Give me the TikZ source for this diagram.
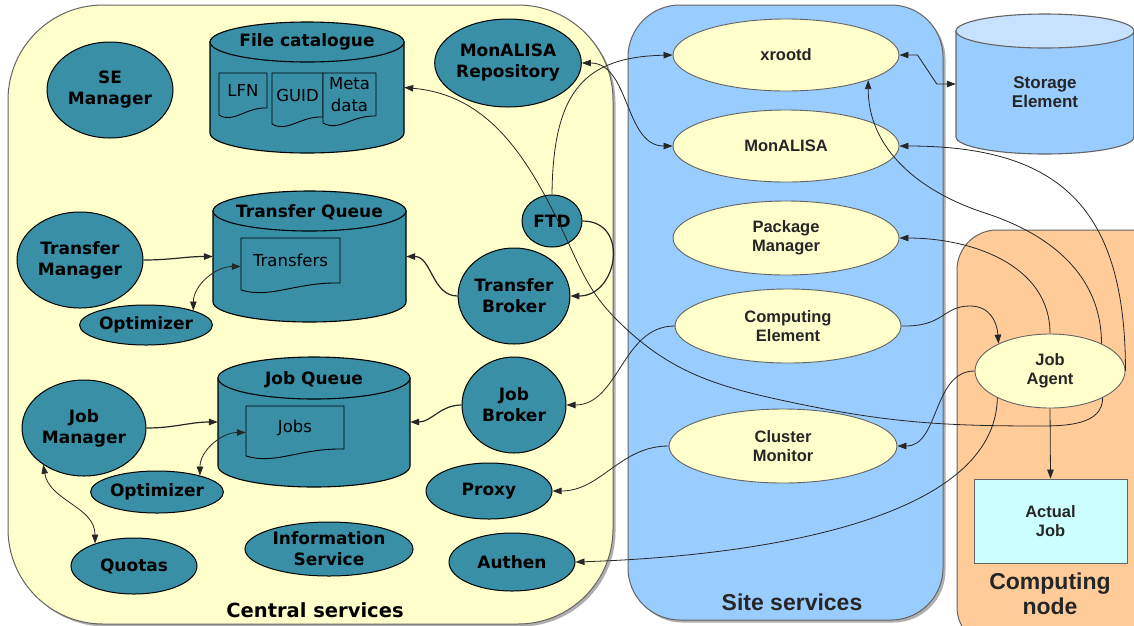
\documentclass[tikz,border=0pt]{standalone}
\usepackage{fontspec}
\setmainfont{DejaVu Sans}
\newfontfamily\helv{Liberation Sans}
\usetikzlibrary{arrows.meta,calc,shapes.geometric}

\definecolor{centralfill}{RGB}{255,255,204}
\definecolor{sitefill}{RGB}{153,204,255}
\definecolor{cnodefill}{RGB}{255,204,153}
\definecolor{svcteal}{RGB}{57,143,166}
\definecolor{agentfill}{RGB}{255,255,204}
\definecolor{setopfill}{RGB}{198,226,255}
\definecolor{jobfill}{RGB}{204,255,255}
\definecolor{framegray}{RGB}{100,100,100}
\definecolor{shadowgray}{RGB}{175,175,175}

\tikzset{
  svc/.style={ellipse, draw=black, line width=1pt, fill=svcteal, inner sep=0pt,
    align=center, font=\fontsize{17}{21}\selectfont\bfseries},
  sitesvc/.style={ellipse, draw=framegray, line width=0.9pt, fill=agentfill, inner sep=0pt,
    align=center, text=black!85, font=\helv\fontsize{16.5}{19.5}\selectfont\bfseries},
  doclabel/.style={font=\fontsize{16.5}{22}\selectfont, align=center, inner sep=0pt},
  dbtitle/.style={font=\fontsize{17}{21}\selectfont\bfseries, inner sep=0pt},
  flow/.style={draw=black!85, line width=0.8pt, -{Triangle[length=9pt,width=6.5pt]}},
  flow2/.style={draw=black!85, line width=0.8pt, {Triangle[length=9pt,width=6.5pt]}-{Triangle[length=9pt,width=6.5pt]}},
  heavy/.style={line width=1.2pt},
  area/.style={draw=framegray, line width=1pt},
  areashadow/.style={fill=shadowgray},
  arealabel/.style={font=\helv\fontsize{23}{25}\selectfont\bfseries, align=center, text=black!85, inner sep=0pt},
}

% cylinder: name, centre x, lid y, base y, x radius, y radius, body colour, lid colour, frame colour
\newcommand\drum[9]{%
  \filldraw[fill=#7, draw=#9, line width=1.1pt]
    (#2-#5,#3) -- (#2-#5,#4) arc[start angle=180, end angle=0, x radius=#5, y radius=#6]
    -- (#2+#5,#3) -- cycle;
  \filldraw[fill=#8, draw=#9, line width=1.1pt] (#2,#3) ellipse[x radius=#5, y radius=#6];
  \node[inner sep=0pt, minimum width=2*#5pt, minimum height={(#4-#3+2*#6)*1pt}] (#1) at (#2,{(#3+#4)/2}) {};
}

% document sheet with a wavy lower edge: name, left, top, right, lower end of right edge, text
\newcommand\sheet[6]{%
  \filldraw[fill=svcteal, draw=black, line width=0.9pt]
    (#2,#3) -- (#4,#3) -- (#4,#5)
    .. controls ({#2+0.55*(#4-#2)},#5-1) and ({#2+0.3*(#4-#2)},#5+16) .. (#2,#5+7) -- cycle;
  \node[doclabel, minimum width={(#4-#2)*1pt}, minimum height={(#5-#3)*1pt}] (#1) at ({(#2+#4)/2},{(#3+#5)/2}) {#6};
}

\begin{document}
\begin{tikzpicture}[x=1pt, y=-1pt]
\useasboundingbox (0,0) rectangle (1134,625);
\clip (0,0) rectangle (1134,625);
\fill[white] (0,0) rectangle (1134,625);

% ---- areas ----
\fill[areashadow, rounded corners=95pt] (10.5,7.5) rectangle (615.5,626.5);
\filldraw[area, fill=centralfill, rounded corners=95pt] (8,5) rectangle (613,624);
\fill[areashadow, rounded corners=52pt] (630.5,7.5) rectangle (945.5,622.5);
\filldraw[area, fill=sitefill, rounded corners=52pt] (628,5) rectangle (943,620);
\fill[areashadow, rounded corners=40pt] (959.5,232.5) rectangle (1180,650);
\filldraw[area, fill=cnodefill, rounded corners=40pt] (957,230) rectangle (1177,647);

\node[font=\fontsize{19.5}{22}\selectfont\bfseries, inner sep=0pt] (lblcentral) at (315,610) {Central services};
\node[arealabel] (lblsite) at (792,602) {Site services};
\node[arealabel] (lblnode) at (1050,594) {Computing\\node};

% ---- central services ----
\node[svc, minimum width=126pt, minimum height=96pt] (sem) at (110,90) {SE\\Manager};
\node[svc, minimum width=144pt, minimum height=88pt] (mr) at (508,63) {MonALISA\\Repository};

\drum{fc}{307}{42}{133}{97}{20}{svcteal}{svcteal}{black}
\node[dbtitle] (fct) at (307,42) {File catalogue};
\sheet{lfn}{219}{73}{267}{108}{LFN}
\sheet{guid}{272}{73}{323}{117}{GUID}
\sheet{meta}{323}{73}{376}{116}{Meta\\data}

\node[svc, minimum width=60pt, minimum height=52pt] (ftd) at (552,221) {FTD};
\node[svc, minimum width=102pt, minimum height=96pt] (tb) at (514,296) {Transfer\\Broker};
\node[svc, minimum width=126pt, minimum height=96pt] (tm) at (80,260) {Transfer\\Manager};
\node[svc, minimum width=126pt, minimum height=40pt] (opt1) at (146,325) {Optimizer};

\drum{tq}{309.5}{211}{302}{96.5}{20}{svcteal}{svcteal}{black}
\node[dbtitle] (tqt) at (309.5,212) {Transfer Queue};
\sheet{tr}{241}{238}{340}{283}{Transfers}

\drum{jq}{314}{378}{466}{96}{21}{svcteal}{svcteal}{black}
\node[dbtitle] (jqt) at (314,380) {Job Queue};
\sheet{jobsdoc}{246}{406}{344}{449}{Jobs}

\node[svc, minimum width=124pt, minimum height=96pt] (jm) at (84,428) {Job\\Manager};
\node[svc, minimum width=128pt, minimum height=42pt] (opt2) at (157,492) {Optimizer};
\node[svc, minimum width=126pt, minimum height=56pt] (quo) at (134,566) {Quotas};
\node[svc, minimum width=168pt, minimum height=54pt] (info) at (329,549) {Information\\Service};
\node[svc, minimum width=104pt, minimum height=96pt] (jb) at (514,405) {Job\\Broker};
\node[svc, minimum width=126pt, minimum height=56pt] (proxy) at (489,491) {Proxy};
\node[svc, minimum width=126pt, minimum height=58pt] (authen) at (512,562) {Authen};

% ---- site services ----
\node[sitesvc, minimum width=226pt, minimum height=72pt] (xr) at (786,55) {xrootd};
\node[sitesvc, minimum width=226pt, minimum height=72pt] (ml) at (786,146) {MonALISA};
\node[sitesvc, minimum width=226pt, minimum height=74pt] (pm) at (786,238) {Package\\Manager};
\node[sitesvc, minimum width=226pt, minimum height=74pt] (ce) at (788,326) {Computing\\Element};
\node[sitesvc, minimum width=228pt, minimum height=74pt] (cm) at (783,446) {Cluster\\Monitor};

\drum{se}{1045}{31}{137}{89}{17}{sitefill}{setopfill}{framegray}
\node[font=\helv\fontsize{17}{19.5}\selectfont\bfseries, align=center, text=black!85, inner sep=0pt] (set) at (1045,92) {Storage\\Element};

% ---- computing node ----
\node[sitesvc, minimum width=150pt, minimum height=74pt] (ja) at (1050,371) {Job\\Agent};
\node[draw=framegray, line width=0.9pt, fill=jobfill, minimum width=153pt, minimum height=84pt,
  inner sep=0pt, align=center, text=black!85, font=\helv\fontsize{16.5}{19.5}\selectfont\bfseries] (aj) at (1050.5,521) {Actual\\Job};

% ---- connectors inside central services ----
\draw[flow, heavy] (tm.east) to[out=0,in=180] (tq.west);
\draw[flow2] (opt1.17) to[out=90,in=180] ($(tr.west)+(0,6)$);
\draw[flow, heavy] (tb.west) to[out=180,in=0] (tq.east);
\draw[flow, heavy] (ftd.east) to[out=0,in=0,looseness=1.6] (tb.east);
\draw[flow, heavy] (jm.east) to[out=0,in=180] (jq.west);
\draw[flow2] (opt2.21) to[out=90,in=180] ($(jobsdoc.west)+(0,5)$);
\draw[flow, heavy] (jb.west) to[out=180,in=0] (jq.east);
\draw[flow2] (jm.222) to[out=-80,in=90] (quo.150);

% ---- connectors between areas ----
\draw[flow] (ftd.north) .. controls (553,90) and (585,57) .. (xr.west);
\draw[flow2] (mr.east) to[out=0,in=180] (ml.west);
\draw[flow2] (xr.east) -- ++(18,0) -- ($(se.west)+(-19,0)$) -- (se.west);
\draw[flow] (ce.west) to[out=180,in=0] (jb.east);
\draw[flow] (cm.west) to[out=180,in=0] (proxy.east);

% ---- job agent links ----
\draw[flow] (ja.207) .. controls (995,520) and (760,556) .. (authen.east);
\draw[flow] (ja.west) to[out=180,in=0] (cm.east);
\draw[flow] (ce.east) .. controls (945,327) and (942,306) .. (970,306)
  .. controls (990,306) and (997,322) .. (ja.152);
\draw[flow] (ja.north) to[out=90,in=0] (pm.east);
\draw[flow] (ja.28) to[out=90,in=-18] (985,213) to[out=162,in=-90] (xr.-17);
\draw[flow] (ja.east) to[out=90,in=0,looseness=1.3] (ml.east);
\draw[flow] (ja.south) -- (aj.north);
\draw[flow] (ja.-27) to[out=-90,in=0] (1040,426) to[out=180,in=-12] (790,402)
  to[out=168,in=-45] (617,320) to[out=135,in=-65] (567,240) to[out=115,in=-5] (fc.east);
\end{tikzpicture}
\end{document}
